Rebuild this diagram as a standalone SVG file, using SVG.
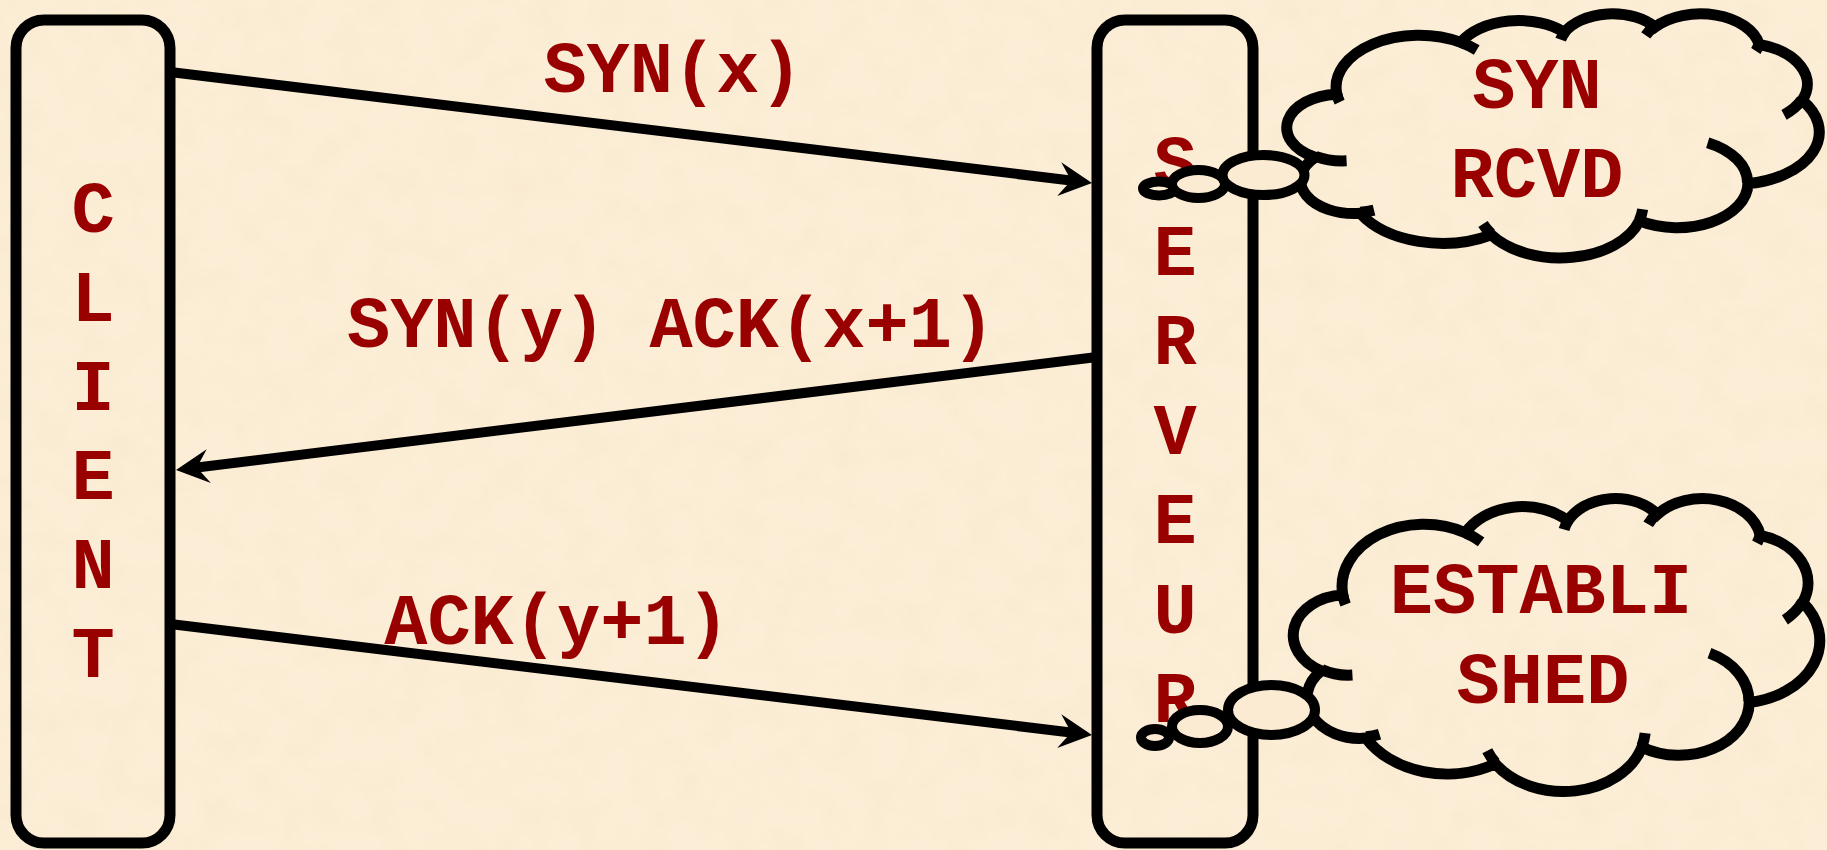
<svg xmlns="http://www.w3.org/2000/svg" width="1827" height="850" viewBox="0 0 1827 850">
<defs>
<style>
.box{fill:none;stroke:#000;stroke-width:11}
.lbl{font-family:"Liberation Mono","Courier New",monospace;font-weight:bold;font-size:72px;fill:#990000;text-anchor:middle}
.conn{stroke:#000;stroke-width:10;fill:none}
.cloud{fill:none;stroke:#000;stroke-width:11;vector-effect:non-scaling-stroke}
.hook{fill:none;stroke:#000;stroke-width:11;vector-effect:non-scaling-stroke}
.bub{fill:#FBEBD3;stroke:#000;stroke-width:10}
</style>
<filter id="paper" x="0" y="0" width="100%" height="100%">
<feTurbulence type="fractalNoise" baseFrequency="0.03" numOctaves="3" seed="7"/>
<feColorMatrix type="matrix" values="0 0 0 0 0.78  0 0 0 0 0.66  0 0 0 0 0.44  0.25 0 0 0 -0.1"/>
</filter>
<marker id="ah" markerUnits="userSpaceOnUse" orient="auto" refX="0" refY="0" overflow="visible">
<path d="M15,0 L-18,-17 L-6,0 L-18,17 Z" fill="#000"/>
</marker>
</defs>
<rect x="0" y="0" width="1827" height="850" fill="#FCEDD6"/>
<rect x="0" y="0" width="1827" height="850" filter="url(#paper)"/>

<g id="client">
<rect class="box" x="16" y="20" width="154" height="823" rx="28"/>
<text class="lbl"><tspan x="93" y="232">C</tspan><tspan x="93" y="321">L</tspan><tspan x="93" y="410">I</tspan><tspan x="93" y="499">E</tspan><tspan x="93" y="588">N</tspan><tspan x="93" y="677">T</tspan></text>
</g>

<g id="serveur">
<rect class="box" x="1097" y="20" width="156" height="823" rx="28"/>
<text class="lbl"><tspan x="1175" y="186">S</tspan><tspan x="1175" y="275">E</tspan><tspan x="1175" y="364">R</tspan><tspan x="1175" y="454">V</tspan><tspan x="1175" y="543">E</tspan><tspan x="1175" y="633">U</tspan><tspan x="1175" y="722">R</tspan></text>
</g>

<g id="connectors">
<line class="conn" x1="170" y1="72" x2="1077.1" y2="181.2" marker-end="url(#ah)"/>
<line class="conn" x1="1097" y1="357" x2="190.9" y2="468.2" marker-end="url(#ah)"/>
<line class="conn" x1="170" y1="624" x2="1077.1" y2="733.2" marker-end="url(#ah)"/>
<text class="lbl" x="673" y="92">SYN(x)</text>
<text class="lbl" x="671" y="347">SYN(y) ACK(x+1)</text>
<text class="lbl" x="557" y="644">ACK(y+1)</text>
</g>

<g id="cloud-syn-rcvd">
<g transform="translate(1289,13) scale(0.0122685,0.0056481)">
<path class="cloud" d="M3900,14370 A6753,9190 0 0,1 14005.5,5202.5 A5333,7267 0 0,1 22457.1,3434 A4365,5945 0 0,1 29834.7,2483.3 A4857,6595 0 0,1 38320,5578.3 A5333,7273 0 0,1 41820.6,15462.1 A6775,9220 0 0,1 37406.3,30204.6 A5785,7867 0 0,1 28557.8,36814.7 A6752,9215 0 0,1 16482.4,39266.9 A7720,10543 0 0,1 5808.5,35472.6 A4360,5918 0 0,1 2117.8,25550.1 A4345,5945 0 0,1 3900,14370 Z"/>
<path class="hook" d="M4693,26177 A4345,5945 0 0,1 2159.6,25379.8 M6928,34899 A4360,5918 0 0,1 5819.7,35280.4 M16478,39090 A6752,9215 0 0,1 15810,37349.7 M28827,34751 A6752,9215 0 0,1 28560.5,36660 M34129,22954 A5785,7867 0 0,1 37380.5,30089.7 M41798,15354 A5333,7273 0 0,1 40349,18031.2 M38324,5426 A4857,6595 0 0,1 38051.1,6714.9 M29078,3952 A4857,6595 0 0,1 29819.8,2339.9 M22141,4720 A4365,5945 0 0,1 22500.1,3330.1 M14000,5192 A6753,9190 0 0,1 15300.8,6541.8 M4127,15789 A6753,9190 0 0,1 3900.5,14371.4"/>
</g>
<text class="lbl" x="1537" y="108">SYN</text>
<text class="lbl" x="1537" y="197">RCVD</text>
<ellipse class="bub" cx="1159" cy="188.5" rx="16" ry="7"/>
<ellipse class="bub" cx="1198.5" cy="184" rx="26.5" ry="14"/>
<ellipse class="bub" cx="1263.5" cy="175" rx="41" ry="20"/>
</g>

<g id="cloud-established">
<g transform="translate(1295.5,497.5) scale(0.0121296,0.0067824)">
<path class="cloud" d="M3900,14370 A6753,9190 0 0,1 14005.5,5202.5 A5333,7267 0 0,1 22457.1,3434 A4365,5945 0 0,1 29834.7,2483.3 A4857,6595 0 0,1 38320,5578.3 A5333,7273 0 0,1 41820.6,15462.1 A6775,9220 0 0,1 37406.3,30204.6 A5785,7867 0 0,1 28557.8,36814.7 A6752,9215 0 0,1 16482.4,39266.9 A7720,10543 0 0,1 5808.5,35472.6 A4360,5918 0 0,1 2117.8,25550.1 A4345,5945 0 0,1 3900,14370 Z"/>
<path class="hook" d="M4693,26177 A4345,5945 0 0,1 2159.6,25379.8 M6928,34899 A4360,5918 0 0,1 5819.7,35280.4 M16478,39090 A6752,9215 0 0,1 15810,37349.7 M28827,34751 A6752,9215 0 0,1 28560.5,36660 M34129,22954 A5785,7867 0 0,1 37380.5,30089.7 M41798,15354 A5333,7273 0 0,1 40349,18031.2 M38324,5426 A4857,6595 0 0,1 38051.1,6714.9 M29078,3952 A4857,6595 0 0,1 29819.8,2339.9 M22141,4720 A4365,5945 0 0,1 22500.1,3330.1 M14000,5192 A6753,9190 0 0,1 15300.8,6541.8 M4127,15789 A6753,9190 0 0,1 3900.5,14371.4"/>
</g>
<text class="lbl" x="1541" y="613">ESTABLI</text>
<text class="lbl" x="1543" y="703">SHED</text>
<ellipse class="bub" cx="1155" cy="737.5" rx="14" ry="8.5"/>
<ellipse class="bub" cx="1200" cy="726.5" rx="28" ry="16.5"/>
<ellipse class="bub" cx="1271.5" cy="710" rx="43.5" ry="25"/>
</g>
</svg>
